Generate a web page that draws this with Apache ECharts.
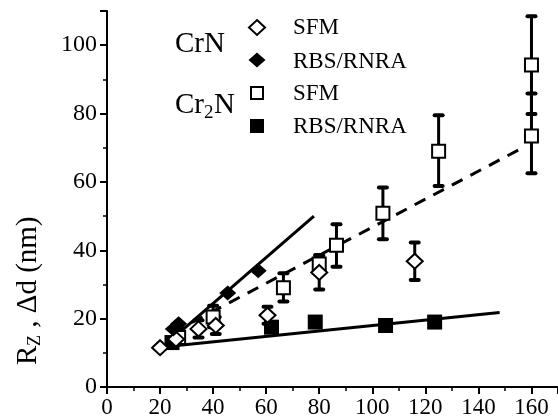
<!DOCTYPE html>
<html>
<head>
<meta charset="utf-8">
<script src="https://cdn.jsdelivr.net/npm/echarts@6/dist/echarts.min.js"></script>
<style>html,body{margin:0;padding:0;background:#fff}#c{width:558px;height:419px}</style>
</head>
<body>
<div id="c"></div>
<script>
// ---- data ----
const xTicks = [0, 20, 40, 60, 80, 100, 120, 140, 160];
const yTicks = [0, 20, 40, 60, 80, 100];

// CrN, SFM (open diamonds)
const crnSfmX    = [20, 26, 34.5, 41, 60.5, 80, 116];
const crnSfmY    = [11.5, 14, 17, 18, 21, 33.5, 36.8];
const crnSfmErrL = [0, 0, 2.5, 2.5, 2.5, 5, 5.5];
const crnSfmErrH = [0, 0, 2.5, 2.5, 2.5, 5, 5.5];

// CrN, RBS/RNRA (filled diamonds)
const crnRbsX = [25, 27, 45.5, 57];
const crnRbsY = [17, 18.5, 27.5, 34];

// Cr2N, SFM (open squares)
const cr2nSfmX    = [27, 40, 66.5, 80, 86.5, 104, 125, 160, 160];
const cr2nSfmY    = [14.5, 20.5, 29, 36, 41.5, 50.8, 69, 94.2, 73.4];
const cr2nSfmErrL = [0, 3, 4, 2, 6.3, 7.6, 10.2, 14.3, 10.9];
const cr2nSfmErrH = [0, 3.3, 4.3, 2.6, 6.1, 7.6, 10.5, 14.3, 12.5];

// Cr2N, RBS/RNRA (filled squares)
const cr2nRbsX = [24.5, 62, 78.5, 105, 123.5];
const cr2nRbsY = [13, 17.5, 19, 18, 19];

// fit lines (end points)
const fitCrN      = [[20, 11], [78, 50]];
const fitCr2nSfm  = [[25, 16], [155, 69.3]];
const fitCr2nRbs  = [[21, 11.7], [148, 21.8]];

// ---- build ----
const FONT = 'Liberation Serif, Times New Roman, Tinos, Times, serif';
const zip = (xs, ys) => xs.map((x, i) => [x, ys[i]]);
const errs = [];
function addErr(xs, ys, lo, hi) {
  xs.forEach((x, i) => { if (lo[i] > 0 || hi[i] > 0) errs.push([x, ys[i] - lo[i], ys[i] + hi[i]]); });
}
addErr(crnSfmX, crnSfmY, crnSfmErrL, crnSfmErrH);
addErr(cr2nSfmX, cr2nSfmY, cr2nSfmErrL, cr2nSfmErrH);

const DIAMOND = 'path://M0,-10 L10,0 L0,10 L-10,0 Z';

const chart = echarts.init(document.getElementById('c'));
chart.setOption({
  animation: false,
  backgroundColor: '#fff',
  grid: { left: 107, right: 0, top: 11, bottom: 32 },
  xAxis: {
    type: 'value', min: 0, max: 170, interval: 20,
    axisLine: { show: true, lineStyle: { color: '#000', width: 2 } },
    axisTick: { show: true, inside: false, length: 7, lineStyle: { color: '#000', width: 2 } },
    minorTick: { show: true, splitNumber: 2, length: 4, lineStyle: { color: '#000', width: 1.5 } },
    splitLine: { show: false },
    axisLabel: { color: '#000', fontFamily: FONT, fontSize: 23, margin: 9, showMaxLabel: false,
      formatter: v => (xTicks.indexOf(v) >= 0 ? String(v) : '') }
  },
  yAxis: {
    type: 'value', min: 0, max: 110, interval: 20,
    axisLine: { show: true, lineStyle: { color: '#000', width: 2 } },
    axisTick: { show: true, inside: false, length: 7, lineStyle: { color: '#000', width: 2 } },
    minorTick: { show: true, splitNumber: 2, length: 4, lineStyle: { color: '#000', width: 1.5 } },
    splitLine: { show: false },
    axisLabel: { color: '#000', fontFamily: FONT, fontSize: 24, margin: 10, showMaxLabel: false,
      formatter: v => (yTicks.indexOf(v) >= 0 ? String(v) : '') }
  },
  series: [
    { type: 'line', data: fitCrN, symbol: 'none', lineStyle: { color: '#000', width: 3 }, z: 1 },
    { type: 'line', data: fitCr2nSfm, symbol: 'none', lineStyle: { color: '#000', width: 3, type: [12, 9] }, z: 1 },
    { type: 'line', data: fitCr2nRbs, symbol: 'none', lineStyle: { color: '#000', width: 3 }, z: 1 },
    {
      type: 'custom', data: errs, z: 2,
      encode: { x: 0, y: [1, 2] },
      renderItem: (params, api) => {
        const x = api.value(0);
        const a = api.coord([x, api.value(1)]);
        const b = api.coord([x, api.value(2)]);
        const hw = 4;
        const st = { stroke: '#000', lineWidth: 3, lineCap: 'round' };
        return { type: 'group', children: [
          { type: 'line', shape: { x1: a[0], y1: a[1], x2: b[0], y2: b[1] }, style: st },
          { type: 'line', shape: { x1: a[0] - hw, y1: a[1], x2: a[0] + hw, y2: a[1] }, style: { stroke: '#000', lineWidth: 4, lineCap: 'round' } },
          { type: 'line', shape: { x1: b[0] - hw, y1: b[1], x2: b[0] + hw, y2: b[1] }, style: { stroke: '#000', lineWidth: 4, lineCap: 'round' } }
        ] };
      }
    },
    { name: 'Cr2N RBS', type: 'scatter', data: zip(cr2nRbsX, cr2nRbsY), symbol: 'rect', symbolSize: 15,
      itemStyle: { color: '#000', borderColor: '#000', borderWidth: 0, opacity: 1 }, z: 3 },
    { name: 'Cr2N SFM', type: 'scatter', data: zip(cr2nSfmX, cr2nSfmY), symbol: 'rect', symbolSize: 13,
      itemStyle: { color: '#fff', borderColor: '#000', borderWidth: 2, opacity: 1 }, z: 4 },
    { name: 'CrN SFM', type: 'scatter', data: zip(crnSfmX, crnSfmY), symbol: DIAMOND, symbolSize: [16, 15],
      itemStyle: { color: '#fff', borderColor: '#000', borderWidth: 2, opacity: 1 }, z: 5 },
    { name: 'CrN RBS', type: 'scatter', data: zip(crnRbsX, crnRbsY), symbol: DIAMOND, symbolSize: [17, 15],
      itemStyle: { color: '#000', borderColor: '#000', borderWidth: 0, opacity: 1 }, z: 6 }
  ],
  graphic: [
    // y-axis title
    { type: 'group', x: 28, y: 365, rotation: Math.PI / 2, children: [
      { type: 'text', x: 0, y: 0, style: { text: 'R', font: '29px ' + FONT, fill: '#000', verticalAlign: 'middle', align: 'left' } },
      { type: 'text', x: 19, y: 7, style: { text: 'Z', font: '18px ' + FONT, fill: '#000', verticalAlign: 'middle', align: 'left' } },
      { type: 'text', x: 30, y: 0, style: { text: ' , \u0394d (nm)', font: '29px ' + FONT, fill: '#000', verticalAlign: 'middle', align: 'left' } }
    ] },
    // legend group labels
    { type: 'text', x: 175, y: 44, style: { text: 'CrN', font: '29px ' + FONT, fill: '#000', verticalAlign: 'middle' } },
    { type: 'text', x: 175, y: 105, style: { text: 'Cr', font: '29px ' + FONT, fill: '#000', verticalAlign: 'middle' } },
    { type: 'text', x: 204, y: 113, style: { text: '2', font: '19px ' + FONT, fill: '#000', verticalAlign: 'middle' } },
    { type: 'text', x: 214, y: 105, style: { text: 'N', font: '29px ' + FONT, fill: '#000', verticalAlign: 'middle' } },
    // legend symbols
    { type: 'polygon', shape: { points: [[257, 20], [265, 27.5], [257, 35], [249, 27.5]] }, style: { fill: '#fff', stroke: '#000', lineWidth: 2 } },
    { type: 'polygon', shape: { points: [[257, 52.5], [265.5, 60], [257, 67.5], [248.5, 60]] }, style: { fill: '#000', stroke: '#000', lineWidth: 0 } },
    { type: 'rect', shape: { x: 251, y: 87, width: 12, height: 12 }, style: { fill: '#fff', stroke: '#000', lineWidth: 2 } },
    { type: 'rect', shape: { x: 250, y: 119, width: 14, height: 14 }, style: { fill: '#000', stroke: '#000', lineWidth: 0 } },
    // legend texts
    { type: 'text', x: 293, y: 28, style: { text: 'SFM', font: '23px ' + FONT, fill: '#000', verticalAlign: 'middle' } },
    { type: 'text', x: 293, y: 62, style: { text: 'RBS/RNRA', font: '23px ' + FONT, fill: '#000', verticalAlign: 'middle' } },
    { type: 'text', x: 293, y: 94, style: { text: 'SFM', font: '23px ' + FONT, fill: '#000', verticalAlign: 'middle' } },
    { type: 'text', x: 293, y: 127, style: { text: 'RBS/RNRA', font: '23px ' + FONT, fill: '#000', verticalAlign: 'middle' } }
  ]
});
</script>
</body>
</html>
